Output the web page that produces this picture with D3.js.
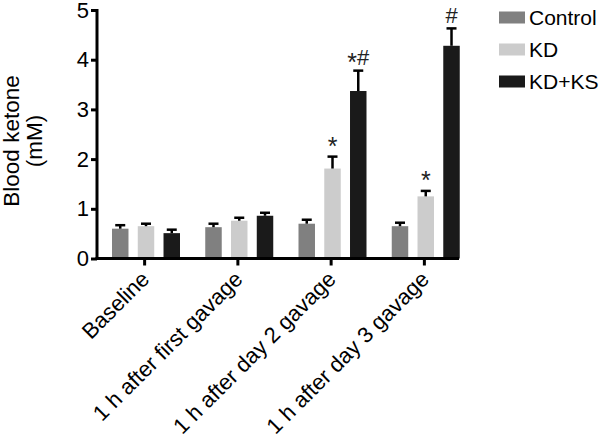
<!DOCTYPE html>
<html><head><meta charset="utf-8">
<script src="https://cdn.jsdelivr.net/npm/d3@7"></script>
<style>body{margin:0;background:#fff}svg{display:block}text{font-family:"Liberation Sans",Arial,sans-serif}</style>
</head><body>
<svg id="c" width="605" height="441"></svg>
<script>
const categories = ["Baseline","1 h after first gavage","1 h after day 2 gavage","1 h after day 3 gavage"];
const seriesNames = ["Control","KD","KD+KS"];
const controlMean = [0.60,0.63,0.70,0.65];
const controlErr  = [0.07,0.07,0.08,0.07];
const kdMean      = [0.65,0.76,1.81,1.25];
const kdErr       = [0.05,0.06,0.24,0.11];
const kdksMean    = [0.51,0.86,3.37,4.28];
const kdksErr     = [0.07,0.06,0.41,0.35];
const annotations = [["","",""],["","",""],["","*","*#"],["","*","#"]];
const yTicks = [0,1,2,3,4,5];
const colors = ["#808080","#cccccc","#1a1a1a"];

const means=[controlMean,kdMean,kdksMean], errs=[controlErr,kdErr,kdksErr];
const svg=d3.select("#c");
const x0=d3.scaleBand().domain(categories).range([98,471]).paddingInner(0).paddingOuter(0);
const x1=d3.scaleBand().domain(seriesNames).range([14,82]).paddingInner(0.36).paddingOuter(0);
const y=d3.scaleLinear().domain([0,5]).range([258.5,10]);

// bars
const g=svg.append("g");
categories.forEach((c,i)=>{
  seriesNames.forEach((s,j)=>{
    const bx=x0(c)+x1(s), bw=x1.bandwidth();
    const v=means[j][i], e=errs[j][i];
    g.append("rect").attr("x",bx).attr("y",y(v)).attr("width",bw).attr("height",y(0)-y(v)).attr("fill",colors[j]);
    const cx=bx+bw/2;
    g.append("line").attr("x1",cx).attr("x2",cx).attr("y1",y(v)).attr("y2",y(v+e)).attr("stroke","#000").attr("stroke-width",2.5);
    g.append("line").attr("x1",cx-5).attr("x2",cx+5).attr("y1",y(v+e)).attr("y2",y(v+e)).attr("stroke","#000").attr("stroke-width",2.5);
    const a=annotations[i][j];
    if(a){
      const top=y(v+e);
      const hasHash=a.includes("#");
      const t=g.append("text").attr("x",cx).attr("y",hasHash?top-5.5:top-1.5).attr("text-anchor","middle").attr("fill","#222");
      [...a].forEach(ch=>{
        if(ch==="*"){
          t.append("tspan").attr("font-size",25).attr("dy",hasHash?6:0).text("*");
        } else {
          t.append("tspan").attr("font-size",22).attr("dy",hasHash&&a.length>1?-6:0).text(ch);
        }
      });
    }
  });
});

// y axis
const ya=svg.append("g").attr("transform","translate(97,0)")
  .call(d3.axisLeft(y).tickValues(yTicks).tickSize(6).tickPadding(2).tickFormat(d3.format("d")));
ya.select(".domain").attr("stroke","#000").attr("stroke-width",3).attr("d",`M0,${y(5)-1}V${y(0)+1.5}`);
ya.selectAll(".tick line").attr("stroke","#000").attr("stroke-width",3);
ya.selectAll(".tick text").attr("font-size",22).attr("fill","#000").attr("font-family","Liberation Sans, Arial, sans-serif");

// x axis
const xa=svg.append("g").attr("transform",`translate(0,${y(0)})`)
  .call(d3.axisBottom(x0).tickSize(7).tickPadding(4));
xa.select(".domain").attr("stroke","#000").attr("stroke-width",3).attr("d",`M95.5,0H459`);
xa.selectAll(".tick line").attr("stroke","#000").attr("stroke-width",3);
xa.selectAll(".tick text").attr("font-size",22).attr("fill","#000").attr("font-family","Liberation Sans, Arial, sans-serif")
  .attr("text-anchor","end").attr("x",0).attr("y",0).attr("dy",0)
  .attr("transform","translate(6,22) rotate(-45)");

// y title
const yt=svg.append("text").attr("transform","translate(0,141) rotate(-90)").attr("text-anchor","middle")
  .attr("font-size",22.5).attr("fill","#000");
yt.append("tspan").attr("x",0).attr("y",18.5).text("Blood ketone");
yt.append("tspan").attr("x",0).attr("y",42).text("(mM)");

// legend
const lg=svg.append("g");
seriesNames.forEach((s,j)=>{
  const ly=11.5+j*32;
  lg.append("rect").attr("x",499).attr("y",ly).attr("width",26).attr("height",12).attr("fill",colors[j]);
  lg.append("text").attr("x",529).attr("y",ly+13.5).attr("font-size",21).attr("fill","#000").text(s);
});
</script>
</body></html>
